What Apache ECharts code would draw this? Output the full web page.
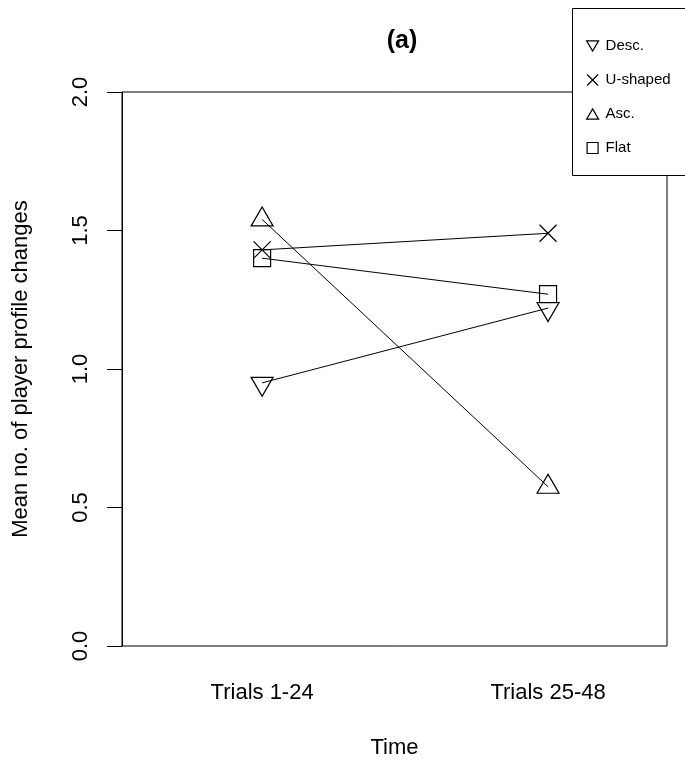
<!DOCTYPE html>
<html>
<head>
<meta charset="utf-8">
<script src="https://cdn.jsdelivr.net/npm/echarts@6/dist/echarts.min.js"></script>
<style>
  html, body { margin: 0; padding: 0; background: #fff; }
  #chart { width: 685px; height: 765px; }
</style>
</head>
<body>
<div id="chart"></div>
<script>
// data
const xPositions = [1, 2]
const xTickLabels = ['Trials 1-24', 'Trials 25-48']
const yTicks = [0, 0.5, 1, 1.5, 2]

const seriesNames = ['Desc.', 'U-shaped', 'Asc.', 'Flat']
const descValues = [0.95, 1.22]
const uShapedValues = [1.43, 1.49]
const ascValues = [1.54, 0.575]
const flatValues = [1.40, 1.27]

const symbols = {
  'Desc.': 'path://M0,0L20,0L10,17Z',
  'U-shaped': 'path://M0,0L10,10M10,0L0,10',
  'Asc.': 'path://M10,0L20,17L0,17Z',
  'Flat': 'path://M0,0L10,0L10,10L0,10Z'
}
const symbolSizes = {
  'Desc.': [22, 19],
  'U-shaped': [17, 17],
  'Asc.': [22, 19],
  'Flat': [17, 17]
}
// R draws the triangles a little off the point
const symbolOffsets = {
  'Desc.': [0, 4],
  'U-shaped': [0, 0],
  'Asc.': [0, -3],
  'Flat': [0, 0]
}

const font = 'Liberation Sans, Arial, sans-serif'

const makeSeries = (name, values) => ({
  name,
  type: 'line',
  data: values.map((v, i) => [xPositions[i], v]),
  symbol: symbols[name],
  symbolSize: symbolSizes[name],
  symbolOffset: symbolOffsets[name],
  showAllSymbol: true,
  lineStyle: { color: '#000', width: 1 },
  itemStyle: { color: 'transparent', borderColor: '#000', borderWidth: 1.2 },
  emphasis: { disabled: true },
  animation: false,
  z: 2
})

const chart = echarts.init(document.getElementById('chart'), null, { renderer: 'canvas' })

chart.setOption({
  backgroundColor: '#fff',
  animation: false,
  title: {
    text: '(a)',
    left: 397,
    top: 24,
    textAlign: 'center',
    textStyle: { fontFamily: font, fontSize: 25, fontWeight: 'bold', color: '#000' }
  },
  grid: {
    left: 122,
    right: 18,
    top: 92,
    bottom: 119,
    show: true,
    borderColor: '#000',
    borderWidth: 1,
    backgroundColor: 'transparent'
  },
  xAxis: {
    type: 'value',
    min: 0.51,
    max: 2.416,
    name: 'Time',
    nameLocation: 'middle',
    nameGap: 91,
    nameTextStyle: { fontFamily: font, fontSize: 22, color: '#000' },
    axisLine: { show: false },
    axisTick: { show: false },
    splitLine: { show: false },
    axisLabel: {
      customValues: xPositions,
      margin: 36,
      fontFamily: font,
      fontSize: 22,
      color: '#000',
      formatter: (v) => xTickLabels[xPositions.indexOf(v)]
    }
  },
  yAxis: {
    type: 'value',
    min: 0,
    max: 2,
    interval: 0.5,
    name: 'Mean no. of player profile changes',
    nameLocation: 'middle',
    nameRotate: 90,
    nameGap: 90,
    nameTextStyle: { fontFamily: font, fontSize: 22, color: '#000' },
    axisLine: { show: true, lineStyle: { color: '#000', width: 1 } },
    axisTick: { show: true, length: 15, lineStyle: { color: '#000', width: 1 } },
    splitLine: { show: false },
    axisLabel: {
      rotate: 90,
      margin: 30,
      fontFamily: font,
      fontSize: 22,
      color: '#000',
      showMinLabel: true,
      showMaxLabel: true,
      formatter: (v) => yTicks.includes(v) ? v.toFixed(1) : ''
    }
  },
  legend: {
    orient: 'vertical',
    left: 581,
    top: 32,
    z: 5,
    itemWidth: 12,
    itemHeight: 11,
    itemGap: 16,
    selectedMode: false,
    data: seriesNames.map(n => ({ name: n, icon: symbols[n] })),
    itemStyle: { color: 'transparent', borderColor: '#000', borderWidth: 1.2 },
    textStyle: { fontFamily: font, fontSize: 15, color: '#000', lineHeight: 18, padding: [0, 0, 0, 2] }
  },
  graphic: [{
    type: 'rect',
    z: 4,
    shape: { x: 572.5, y: 8.5, width: 130, height: 167 },
    style: { fill: '#fff', stroke: '#000', lineWidth: 1 }
  }],
  series: [
    makeSeries('Desc.', descValues),
    makeSeries('U-shaped', uShapedValues),
    makeSeries('Asc.', ascValues),
    makeSeries('Flat', flatValues)
  ]
})
</script>
</body>
</html>
